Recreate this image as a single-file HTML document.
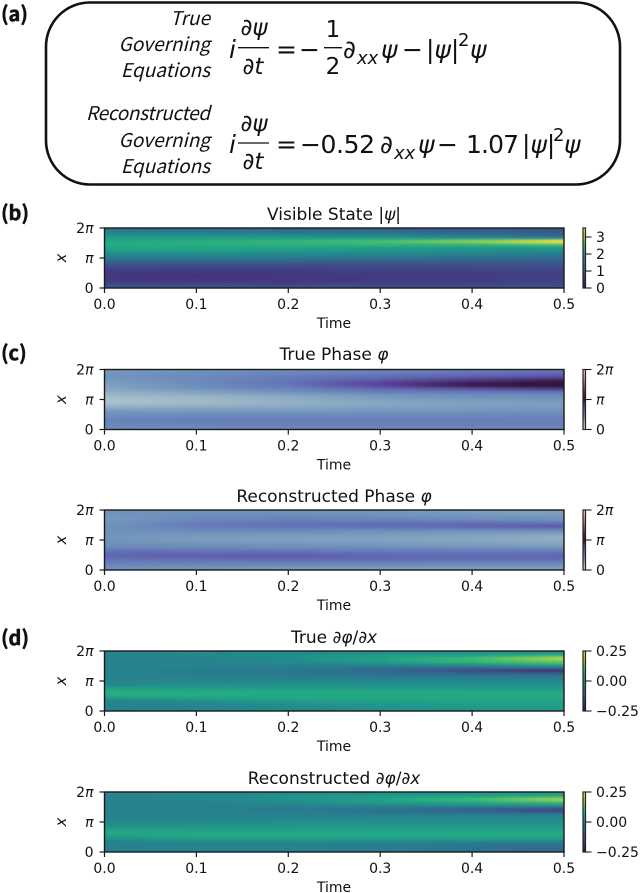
<!DOCTYPE html>
<html lang="en">
<head>
<meta charset="utf-8">
<title>Governing equations and heatmaps</title>
<style>
html,body{margin:0;padding:0;background:#fff;}
svg{display:block;}
text{fill:#111;}
.tick{font-family:"DejaVu Sans",sans-serif;font-size:14px;}
.ital{font-family:"DejaVu Sans",sans-serif;font-size:15px;font-style:italic;}
.title{font-family:"DejaVu Sans",sans-serif;font-size:17px;}
.panel{font-family:"Noto Sans CJK JP","Liberation Sans",sans-serif;font-size:20px;font-weight:700;stroke:#111;stroke-width:.5px;}
.lab{font-family:"Noto Sans CJK JP","Liberation Sans",sans-serif;font-size:19px;font-style:italic;font-weight:400;}
.eq{font-family:"DejaVu Sans",sans-serif;font-size:25px;}
.eqi{font-family:"DejaVu Sans",sans-serif;font-size:25px;font-style:italic;}
.frac{font-family:"DejaVu Sans",sans-serif;font-size:23px;}
.fraci{font-family:"DejaVu Sans",sans-serif;font-size:23px;font-style:italic;}
.sub{font-family:"DejaVu Sans",sans-serif;font-size:18px;font-style:italic;}
.sup{font-family:"DejaVu Sans",sans-serif;font-size:18px;}
</style>
</head>
<body>
<svg id="figure" width="640" height="893" viewBox="0 0 640 893" xmlns="http://www.w3.org/2000/svg">
<defs>
<filter id="softRows" filterUnits="userSpaceOnUse" x="0" y="0" width="640" height="893"><feGaussianBlur stdDeviation="0 1"/></filter>
</defs>
<rect width="640" height="893" fill="#fff"/>

<g>
<text class="panel" x="1" y="21">(a)</text>
<rect x="46" y="2.5" width="574" height="182" rx="44" fill="none" stroke="#111" stroke-width="2.6"/>
<text class="lab" x="210" y="25" text-anchor="end">True</text>
<text class="lab" x="210" y="51" text-anchor="end">Governing</text>
<text class="lab" x="210" y="77" text-anchor="end">Equations</text>
<text class="lab" x="210" y="120" text-anchor="end" textLength="124">Reconstructed</text>
<text class="lab" x="210" y="147" text-anchor="end">Governing</text>
<text class="lab" x="210" y="173" text-anchor="end">Equations</text>

<g>
<text class="eqi" x="229" y="58">i</text>
<text class="fraci" x="254" y="35" text-anchor="middle">∂ψ</text>
<line x1="238" x2="269" y1="47.7" y2="47.7" stroke="#111" stroke-width="1.3"/>
<text class="fraci" x="253" y="74" text-anchor="middle">∂t</text>
<text class="eq" x="276" y="58">=</text>
<text class="eq" x="299" y="58">−</text>
<text class="frac" x="333" y="37" text-anchor="middle">1</text>
<line x1="324" x2="342" y1="47.7" y2="47.7" stroke="#111" stroke-width="1.3"/>
<text class="frac" x="333" y="74" text-anchor="middle">2</text>
<text class="eqi" x="343" y="58">∂</text>
<text class="sub" x="357" y="64">xx</text>
<text class="eqi" x="381" y="58">ψ</text>
<text class="eq" x="402" y="58">−</text>
<text class="eqi" x="426" y="58">|ψ|</text>
<text class="sup" x="458" y="46">2</text>
<text class="eqi" x="470" y="58">ψ</text>
</g>

<g>
<text class="eqi" x="229" y="153">i</text>
<text class="fraci" x="254" y="131" text-anchor="middle">∂ψ</text>
<line x1="238" x2="269" y1="143" y2="143" stroke="#111" stroke-width="1.3"/>
<text class="fraci" x="253" y="169" text-anchor="middle">∂t</text>
<text class="eq" x="276" y="153">=</text>
<text class="eq" x="300" y="153" textLength="75">−0.52</text>
<text class="eqi" x="380" y="153">∂</text>
<text class="sub" x="394" y="159">xx</text>
<text class="eqi" x="418" y="153">ψ</text>
<text class="eq" x="437" y="153">−</text>
<text class="eq" x="466" y="153" textLength="53">1.07</text>
<text class="eqi" x="522" y="153">|ψ|</text>
<text class="sup" x="553" y="141">2</text>
<text class="eqi" x="564" y="153">ψ</text>
</g>
</g>

<text class="panel" x="1" y="220">(b)</text>
<text class="panel" x="1" y="360">(c)</text>
<text class="panel" x="1" y="645">(d)</text>
</svg>

<script>
// Chart data
const timeColumns = [0, 0.1, 0.2, 0.3, 0.4, 0.5];
const timeTickLabels = ['0.0', '0.1', '0.2', '0.3', '0.4', '0.5'];
const spaceTickValues = [2, 1, 0];
const spaceTickLabels = ['2π', 'π', '0'];

// Each row runs from x = 2π (first) to x = 0 (last); each column is a time
const visibleState = [
[1.35,1.30,1.20,1.10,1.00,0.95],
[1.55,1.50,1.40,1.30,1.15,1.00],
[1.80,1.75,1.70,1.60,1.40,1.15],
[2.00,2.00,2.00,2.00,1.90,1.70],
[2.10,2.20,2.30,2.50,2.90,3.50],
[2.15,2.20,2.25,2.30,2.30,2.50],
[2.10,2.10,2.05,2.00,1.95,1.90],
[1.95,1.95,1.90,1.85,1.75,1.70],
[1.75,1.75,1.70,1.65,1.55,1.50],
[1.50,1.50,1.50,1.45,1.40,1.30],
[1.25,1.25,1.25,1.20,1.15,1.15],
[1.05,1.05,1.05,1.00,1.00,1.00],
[0.85,0.80,0.80,0.80,0.85,0.85],
[0.68,0.68,0.68,0.72,0.75,0.78],
[0.60,0.60,0.60,0.64,0.66,0.70],
[0.56,0.52,0.56,0.60,0.63,0.66],
[0.56,0.52,0.56,0.60,0.63,0.66],
[0.60,0.56,0.56,0.60,0.63,0.68],
[0.70,0.66,0.64,0.66,0.68,0.72],
[0.95,0.90,0.85,0.85,0.85,0.90]
];
// Phase values are in units of π
const truePhase = [
[0.38,0.42,0.46,0.50,0.54,0.58],
[0.40,0.45,0.50,0.56,0.62,0.68],
[0.40,0.46,0.55,0.62,0.72,0.80],
[0.38,0.47,0.58,0.72,0.85,0.95],
[0.36,0.46,0.60,0.82,0.96,1.00],
[0.34,0.44,0.56,0.80,0.96,1.00],
[0.32,0.40,0.50,0.64,0.76,0.86],
[0.28,0.34,0.42,0.52,0.56,0.60],
[0.24,0.28,0.34,0.42,0.46,0.48],
[0.20,0.24,0.29,0.36,0.40,0.42],
[0.18,0.22,0.27,0.33,0.36,0.38],
[0.20,0.24,0.28,0.32,0.34,0.36],
[0.28,0.30,0.31,0.34,0.36,0.37],
[0.36,0.36,0.36,0.38,0.38,0.40],
[0.42,0.42,0.42,0.42,0.44,0.44],
[0.46,0.48,0.48,0.48,0.48,0.50],
[0.50,0.52,0.52,0.52,0.52,0.52],
[0.50,0.52,0.54,0.54,0.54,0.54],
[0.48,0.50,0.52,0.52,0.52,0.52],
[0.44,0.46,0.48,0.48,0.48,0.48]
];
const reconstructedPhase = [
[0.42,0.42,0.42,0.40,0.36,0.34],
[0.40,0.44,0.44,0.42,0.38,0.36],
[0.38,0.46,0.48,0.46,0.42,0.40],
[0.38,0.50,0.54,0.52,0.50,0.46],
[0.40,0.54,0.60,0.62,0.64,0.60],
[0.42,0.54,0.60,0.62,0.66,0.74],
[0.42,0.48,0.50,0.50,0.50,0.52],
[0.42,0.42,0.42,0.40,0.38,0.38],
[0.40,0.38,0.37,0.36,0.34,0.30],
[0.40,0.36,0.35,0.34,0.32,0.28],
[0.42,0.38,0.36,0.35,0.33,0.30],
[0.44,0.42,0.40,0.38,0.36,0.34],
[0.48,0.48,0.46,0.44,0.42,0.40],
[0.58,0.58,0.56,0.54,0.52,0.52],
[0.64,0.66,0.66,0.62,0.60,0.62],
[0.66,0.68,0.70,0.66,0.64,0.66],
[0.60,0.62,0.64,0.62,0.62,0.62],
[0.54,0.54,0.54,0.52,0.52,0.50],
[0.48,0.46,0.46,0.44,0.42,0.42],
[0.42,0.40,0.38,0.36,0.36,0.36]
];
const trueGradient = [
[-0.02,-0.02,-0.01,0.00,0.00,0.00],
[-0.03,-0.02,-0.01,0.02,0.04,0.07],
[-0.03,-0.03,-0.01,0.03,0.09,0.19],
[-0.03,-0.03,-0.01,0.03,0.08,0.13],
[-0.03,-0.03,-0.03,-0.02,0.01,0.06],
[-0.03,-0.03,-0.04,-0.06,-0.08,-0.06],
[-0.03,-0.04,-0.05,-0.08,-0.14,-0.21],
[-0.03,-0.04,-0.05,-0.07,-0.09,-0.10],
[-0.03,-0.03,-0.04,-0.05,-0.05,-0.05],
[-0.03,-0.03,-0.03,-0.03,-0.03,-0.03],
[-0.02,-0.02,-0.01,-0.01,-0.01,-0.01],
[-0.01,0.00,0.00,0.00,0.00,0.00],
[0.03,0.03,0.03,0.03,0.02,0.02],
[0.06,0.05,0.05,0.05,0.05,0.05],
[0.06,0.06,0.05,0.05,0.05,0.05],
[0.02,0.04,0.05,0.05,0.05,0.05],
[-0.02,0.00,0.03,0.04,0.04,0.04],
[-0.03,-0.02,0.00,0.02,0.03,0.03],
[-0.03,-0.03,-0.01,0.00,0.02,0.02],
[-0.03,-0.02,-0.01,0.00,0.01,0.02]
];
const reconstructedGradient = [
[-0.02,-0.02,-0.01,0.00,0.01,0.02],
[-0.03,-0.02,0.00,0.02,0.04,0.06],
[-0.03,-0.02,0.00,0.04,0.09,0.18],
[-0.03,-0.03,-0.01,0.02,0.05,0.08],
[-0.03,-0.03,-0.03,-0.02,-0.01,0.00],
[-0.03,-0.03,-0.04,-0.06,-0.09,-0.14],
[-0.03,-0.03,-0.04,-0.06,-0.09,-0.14],
[-0.03,-0.03,-0.03,-0.04,-0.04,-0.04],
[-0.03,-0.03,-0.03,-0.02,-0.02,-0.02],
[-0.02,-0.02,-0.01,-0.01,-0.01,-0.01],
[-0.01,-0.01,0.00,0.00,0.00,0.00],
[0.00,0.01,0.01,0.02,0.02,0.02],
[0.03,0.03,0.03,0.04,0.04,0.04],
[0.05,0.05,0.05,0.05,0.05,0.05],
[0.03,0.05,0.05,0.05,0.05,0.05],
[0.00,0.03,0.03,0.03,0.03,0.03],
[-0.03,-0.02,-0.02,-0.02,-0.03,-0.03],
[-0.03,-0.03,-0.03,-0.04,-0.05,-0.07],
[-0.03,-0.03,-0.03,-0.04,-0.06,-0.08],
[-0.03,-0.03,-0.03,-0.04,-0.06,-0.08]
];
const stateColorbarTicks = [0, 1, 2, 3];
const stateColorbarLabels = ['0', '1', '2', '3'];
const phaseColorbarTicks = [0, 1, 2];
const phaseColorbarLabels = ['0', 'π', '2π'];
const gradientColorbarTicks = [-0.25, 0, 0.25];
const gradientColorbarLabels = ['−0.25', '0.00', '0.25'];

const viridis = ['#440154','#482475','#414487','#355f8d','#2a788e','#21918c','#22a884','#44bf70','#7ad151','#bddf26','#fde725'];
const twilight = ['#e2d9e2','#a6bfca','#7195bc','#6272b7','#5c479f','#2f1436','#6b1f53','#9f4c54','#bf7f6a','#d3b4a8','#e2d9e2'];

const svgNS = 'http://www.w3.org/2000/svg';
const figure = document.getElementById('figure');
const defs = figure.querySelector('defs');
const LEFT = 104.5, RIGHT = 564, CB_LEFT = 583, CB_RIGHT = 585.5, PANEL_H = 60, TIME_MAX = 0.5;

function hexToRgb(h) {
  return [parseInt(h.slice(1,3),16), parseInt(h.slice(3,5),16), parseInt(h.slice(5,7),16)];
}
function sampleMap(map, f) {
  const c = Math.max(0, Math.min(1, f)) * (map.length - 1);
  const i = Math.min(Math.floor(c), map.length - 2);
  const a = hexToRgb(map[i]), b = hexToRgb(map[i + 1]), k = c - i;
  return 'rgb(' + a.map((v, j) => Math.round(v + (b[j] - v) * k)).join(',') + ')';
}
function timeScale(t) {
  return LEFT + (t / TIME_MAX) * (RIGHT - LEFT);
}
function make(tag, attrs, parent) {
  const el = document.createElementNS(svgNS, tag);
  for (const k in attrs) el.setAttribute(k, attrs[k]);
  parent.appendChild(el);
  return el;
}
function writeLabel(el, label) {
  const piAt = label.indexOf('π');
  if (piAt < 0) {
    el.textContent = label;
    return;
  }
  if (piAt > 0) make('tspan', {}, el).textContent = label.slice(0, piAt);
  make('tspan', {'font-style': 'italic'}, el).textContent = 'π';
}
let uid = 0;

function drawPanel(cfg) {
  const top = cfg.top, bottom = top + PANEL_H;
  const rowScale = i => top + (i / cfg.values.length) * PANEL_H;
  const spaceScale = v => bottom - (v / 2) * PANEL_H;
  const colorFraction = v => (v - cfg.vmin) / (cfg.vmax - cfg.vmin);
  const cbScale = v => bottom - colorFraction(v) * PANEL_H;

  const group = make('g', {}, figure);
  
  

  const title = make('text', {class: 'title', x: 334, y: cfg.titleY, 'text-anchor': 'middle'}, group);
  
  
  cfg.title.forEach(part => {
    const span = make('tspan', part[1] ? {'font-style': 'italic'} : {}, title);
    span.textContent = part[0];
  });

  const clipId = 'clip' + (uid++);
  const clip = make('clipPath', {id: clipId}, defs);
  make('rect', {x: LEFT, y: top, width: RIGHT - LEFT, height: PANEL_H}, clip);
  const clipped = make('g', {'clip-path': 'url(#' + clipId + ')'}, group);
  const heat = make('g', {filter: 'url(#softRows)'}, clipped);
  
  

  cfg.values.forEach((row, i) => {
    const gradId = 'rowGrad' + (uid++);
    const grad = make('linearGradient', {id: gradId, gradientUnits: 'userSpaceOnUse', x1: timeScale(timeColumns[0]), x2: timeScale(timeColumns[timeColumns.length - 1]), y1: 0, y2: 0}, defs);
    row.forEach((v, j) => {
      make('stop', {offset: timeColumns[j] / TIME_MAX, 'stop-color': sampleMap(cfg.map, colorFraction(v))}, grad);
    });
    const y0 = rowScale(i) - (i === 0 ? 6 : 0);
    const y1 = rowScale(i + 1) + (i === cfg.values.length - 1 ? 6 : 0.4);
    const cell = make('rect', {x: LEFT - 2, y: y0, width: RIGHT - LEFT + 4, height: y1 - y0, fill: 'url(#' + gradId + ')'}, heat);
    
    
  });

  const frame = make('rect', {x: LEFT, y: top, width: RIGHT - LEFT, height: PANEL_H, fill: 'none', stroke: '#1a1a1a', 'stroke-width': 1.4}, group);
  
  

  timeColumns.forEach((t, i) => {
    const px = timeScale(t);
    const tick = make('line', {x1: px, x2: px, y1: bottom, y2: bottom + 5, stroke: '#1a1a1a', 'stroke-width': 1.2}, group);
    
    
    const label = make('text', {class: 'tick', x: px, y: bottom + 21, 'text-anchor': 'middle'}, group);
    
    
    label.textContent = timeTickLabels[i];
  });

  spaceTickValues.forEach((v, i) => {
    const py = spaceScale(v);
    const tick = make('line', {x1: LEFT - 5, x2: LEFT, y1: py, y2: py, stroke: '#1a1a1a', 'stroke-width': 1.2}, group);
    
    
    const label = make('text', {class: 'tick', x: 93.5, y: py + 5, 'text-anchor': 'end'}, group);
    
    
    writeLabel(label, spaceTickLabels[i]);
  });

  const xLabel = make('text', {class: 'tick', x: 334, y: bottom + 40, 'text-anchor': 'middle'}, group);
  
  
  xLabel.textContent = 'Time';

  const yMid = top + PANEL_H / 2;
  const yLabel = make('text', {class: 'ital', x: 66, y: yMid, 'text-anchor': 'middle', transform: 'rotate(-90 66 ' + yMid + ')'}, group);
  
  
  yLabel.textContent = 'x';

  const cbId = 'cbGrad' + (uid++);
  const cbGrad = make('linearGradient', {id: cbId, x1: 0, x2: 0, y1: 1, y2: 0}, defs);
  cfg.map.forEach((c, i) => {
    make('stop', {offset: i / (cfg.map.length - 1), 'stop-color': c}, cbGrad);
  });
  const colorbar = make('rect', {x: CB_LEFT, y: top, width: CB_RIGHT - CB_LEFT, height: PANEL_H, fill: 'url(#' + cbId + ')', stroke: '#222', 'stroke-width': 1.2}, group);
  
  

  cfg.cbTicks.forEach((v, i) => {
    const py = cbScale(v);
    const tick = make('line', {x1: CB_RIGHT, x2: CB_RIGHT + 6, y1: py, y2: py, stroke: '#1a1a1a', 'stroke-width': 1.1}, group);
    
    
    const label = make('text', {class: 'tick', x: 596, y: py + 5}, group);
    
    
    writeLabel(label, cfg.cbLabels[i]);
  });
}

drawPanel({name: 'visible-state-chart', top: 228, titleY: 220, title: [['Visible State |', false], ['ψ', true], ['|', false]],
  values: visibleState, map: viridis, vmin: 0, vmax: 3.53, cbTicks: stateColorbarTicks, cbLabels: stateColorbarLabels});
drawPanel({name: 'true-phase-chart', top: 369.5, titleY: 360, title: [['True Phase ', false], ['φ', true]],
  values: truePhase, map: twilight, vmin: 0, vmax: 2, cbTicks: phaseColorbarTicks, cbLabels: phaseColorbarLabels});
drawPanel({name: 'reconstructed-phase-chart', top: 510, titleY: 502, title: [['Reconstructed Phase ', false], ['φ', true]],
  values: reconstructedPhase, map: twilight, vmin: 0, vmax: 2, cbTicks: phaseColorbarTicks, cbLabels: phaseColorbarLabels});
drawPanel({name: 'true-gradient-chart', top: 651, titleY: 643, title: [['True ∂', false], ['φ', true], ['/∂', false], ['x', true]],
  values: trueGradient, map: viridis, vmin: -0.25, vmax: 0.25, cbTicks: gradientColorbarTicks, cbLabels: gradientColorbarLabels});
drawPanel({name: 'reconstructed-gradient-chart', top: 792, titleY: 784, title: [['Reconstructed ∂', false], ['φ', true], ['/∂', false], ['x', true]],
  values: reconstructedGradient, map: viridis, vmin: -0.25, vmax: 0.25, cbTicks: gradientColorbarTicks, cbLabels: gradientColorbarLabels});
</script>
</body>
</html>
